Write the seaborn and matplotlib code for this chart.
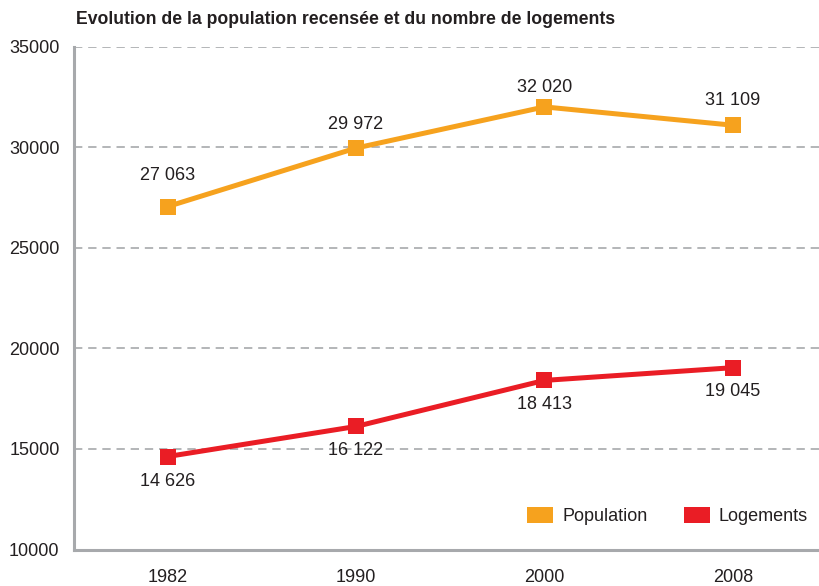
import matplotlib
matplotlib.use("Agg")
import matplotlib.pyplot as plt
import seaborn as sns
import pandas as pd
from matplotlib.patches import Patch

years = ["1982", "1990", "2000", "2008"]
population = [27063, 29972, 32020, 31109]
logements = [14626, 16122, 18413, 19045]
series_names = ["Population", "Logements"]
colors = {"Population": "#F6A21E", "Logements": "#EA1D25"}
title = "Evolution de la population recensée et du nombre de logements"
yticks = [10000, 15000, 20000, 25000, 30000, 35000]

# label offsets (points) relative to markers
pop_offsets = [22, 17, 14, 18]
log_offsets = [-18, -17, -17, -17]

df = pd.DataFrame({
    "year": years * 2,
    "pos": list(range(len(years))) * 2,
    "value": population + logements,
    "serie": [series_names[0]] * len(years) + [series_names[1]] * len(years),
})

sns.set_theme(style="white")
plt.rcParams['font.family'] = ['Liberation Sans', 'DejaVu Sans']

W, H = 819, 586
fig = plt.figure(figsize=(W / 100, H / 100), dpi=100)
left, right, top, bottom = 73.5, 827.0, 47.0, 549.5
ax = fig.add_axes([left / W, 1 - bottom / H, (right - left) / W, (bottom - top) / H])

sns.lineplot(data=df, x="pos", y="value", hue="serie", palette=colors,
             marker="s", markersize=12, linewidth=3.6, markeredgewidth=0,
             legend=False, ax=ax, sort=False)

ax.set_xlim(-0.5, len(years) - 0.5)
ax.set_ylim(10000, 35000)
ax.set_yticks(yticks)
ax.set_yticklabels([str(v) for v in yticks], fontsize=13, color="#231F20")
ax.set_xticks(range(len(years)))
ax.set_xticklabels(years, fontsize=13, color="#231F20")
ax.set_xticks([i + 0.5 for i in range(-1, len(years))], minor=True)
ax.tick_params(axis="x", which="major", length=0, pad=14)
ax.tick_params(axis="x", which="minor", direction="in", length=8, width=2, color="#A7A9AC")
ax.tick_params(axis="y", length=0, pad=10)
ax.set_xlabel("")
ax.set_ylabel("")

for y in yticks[1:]:
    ax.axhline(y, color="#A7A9AC", linestyle=(0, (5, 3.5)), linewidth=1.2, zorder=0)

for s in ["top", "right"]:
    ax.spines[s].set_visible(False)
for s in ["left", "bottom"]:
    ax.spines[s].set_color("#A7A9AC")
    ax.spines[s].set_linewidth(2.2)

def fmt(v):
    return f"{v:,}".replace(",", " ")

for i, v in enumerate(population):
    ax.annotate(fmt(v), (i, v), xytext=(0, pop_offsets[i]), textcoords="offset points",
                ha="center", va="center", fontsize=13, color="#231F20")
for i, v in enumerate(logements):
    ax.annotate(fmt(v), (i, v), xytext=(0, log_offsets[i]), textcoords="offset points",
                ha="center", va="center", fontsize=13, color="#231F20")

fig.text(76 / W, 1 - 20 / H, title, fontsize=12.7, fontweight="bold",
         ha="left", va="center", color="#231F20")

handles = [Patch(facecolor=colors[n], edgecolor="none") for n in series_names]
leg = fig.legend(handles, series_names, loc="center right",
                 bbox_to_anchor=(808 / W, 1 - 516 / H), bbox_transform=fig.transFigure,
                 ncol=2, frameon=False, fontsize=13, borderpad=0, borderaxespad=0,
                 handlelength=1.45, handleheight=1.0, handletextpad=0.5, columnspacing=2.0)
for t in leg.get_texts():
    t.set_color("#231F20")

fig.savefig("out.png", dpi=100)
